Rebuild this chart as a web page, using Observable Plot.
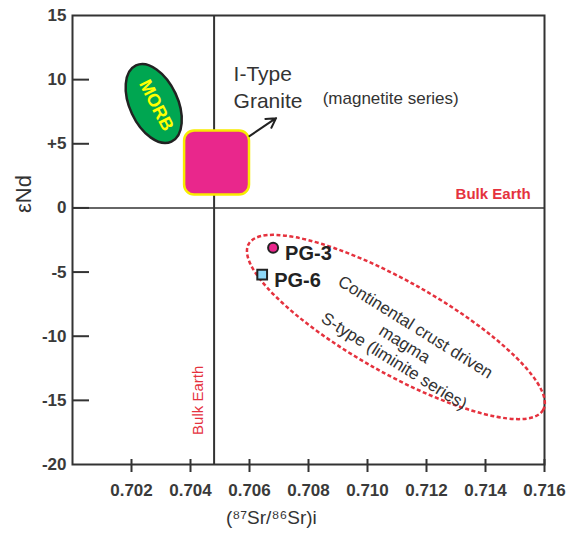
<!DOCTYPE html>
<html><head><meta charset="utf-8">
<script src="https://cdn.jsdelivr.net/npm/d3@7"></script>
<script src="https://cdn.jsdelivr.net/npm/@observablehq/plot@0.6"></script>
<style>body{margin:0;background:#fff;}</style>
</head><body><div id="chart"></div>
<script>
// ---- data ----
const xTicks = [0.702, 0.704, 0.706, 0.708, 0.710, 0.712, 0.714, 0.716];
const xTickLabels = ["0.702", "0.704", "0.706", "0.708", "0.710", "0.712", "0.714", "0.716"];
const yTicks = [15, 10, 5, 0, -5, -10, -15, -20];
const yTickLabels = ["15", "10", "+5", "0", "-5", "-10", "-15", "-20"];
const bulkEarthSr = [0.7048];
const bulkEarthNd = [0];
const sampleNames = ["PG-3", "PG-6"];
const sampleSr = [0.7068, 0.70643];
const sampleNd = [-3.1, -5.2];
const morbCenter = [0.70277, 8.1];
const iTypeSr = [0.7038, 0.7060];
const iTypeNd = [1.0, 6.0];
const arrowSr = [0.7060, 0.7069];
const arrowNd = [5.6, 7.0];
const crustCenter = [0.71098, -9.32];
const crustTextPos = [0.71128, -10.55];
const labelTexts = ["I-Type\nGranite", "(magnetite series)", "Bulk Earth", "Bulk Earth", "MORB",
  "Continental crust driven\nmagma\nS-type (liminite series)"];
const labelSr = [0.70546, 0.70848, 0.71553, 0.70427, 0.70284];
const labelNd = [9.5, 8.5, 1.1, -15.0, 8.0];

const font = "'Liberation Sans', Arial, Helvetica, sans-serif";
const red = "#e5323e";
const samples = sampleNames.map((name, i) => ({name, sr: sampleSr[i], nd: sampleNd[i]}));

function ellipseMark(center, rx, ry, angle, attrs) {
  return (index, scales) => {
    const g = d3.create("svg:g");
    const e = g.append("ellipse")
      .attr("cx", 0).attr("cy", 0).attr("rx", rx).attr("ry", ry)
      .attr("transform", `translate(${scales.x(center[0])},${scales.y(center[1])}) rotate(${angle})`);
    for (const [k, v] of Object.entries(attrs)) e.attr(k, v);
    return g.node();
  };
}

const chart = Plot.plot({
  width: 569, height: 533,
  marginLeft: 72, marginRight: 25, marginTop: 15, marginBottom: 69,
  x: {domain: [0.700, 0.716], label: null},
  y: {domain: [-20, 15], label: null},
  style: {fontFamily: font, background: "white", overflow: "visible"},
  marks: [
    Plot.ruleY(bulkEarthNd, {stroke: "#666", strokeWidth: 2}),
    Plot.ruleX(bulkEarthSr, {stroke: "#333", strokeWidth: 2}),
    Plot.frame({stroke: "#333", strokeWidth: 2}),
    // axes
    Plot.axisX(xTicks, {anchor: "bottom", tickSize: 13, dy: -5, tickFormat: () => "", stroke: "#333", strokeWidth: 2, label: null}),
    Plot.axisX(xTicks, {anchor: "bottom", tickSize: 0, tickPadding: 19, tickFormat: d => xTickLabels[xTicks.indexOf(d)],
      fontSize: 17, fontWeight: "bold", fill: "#3a3a3a", label: null}),
    Plot.axisY(yTicks.slice(1, -1), {anchor: "left", tickSize: 17, dx: 17, tickFormat: () => "", stroke: "#333", strokeWidth: 2, label: null}),
    Plot.axisY(yTicks, {anchor: "left", tickSize: 0, tickPadding: 6, tickFormat: d => yTickLabels[yTicks.indexOf(d)],
      fontSize: 17, fontWeight: "bold", fill: "#3a3a3a", label: null}),
    Plot.text(["εNd"], {frameAnchor: "left", dx: -49, dy: -27, rotate: -90, fontSize: 22, fill: "#333"}),
    Plot.text(["(⁸⁷Sr/⁸⁶Sr)i"], {x: 0.70674, frameAnchor: "bottom", dy: 59, fontSize: 19, fill: "#333"}),
    // MORB field
    ellipseMark(morbCenter, 24, 42, -25, {fill: "#00a651", stroke: "#222", "stroke-width": 2.5}),
    Plot.text([labelTexts[4]], {x: labelSr[4], y: labelNd[4], rotate: 63, fontSize: 18, fontWeight: "bold", fill: "#ffff00"}),
    // I-type granite box
    Plot.rect([0], {x1: iTypeSr[0], x2: iTypeSr[1], y1: iTypeNd[0], y2: iTypeNd[1], rx: 10,
      fill: "#e9278c", stroke: "#f7ec00", strokeWidth: 2.5}),
    Plot.arrow([0], {x1: arrowSr[0], y1: arrowNd[0], x2: arrowSr[1], y2: arrowNd[1], stroke: "#222", strokeWidth: 2, headLength: 9}),
    Plot.text([labelTexts[0]], {x: labelSr[0], y: labelNd[0], textAnchor: "start", fontSize: 21, lineHeight: 1.25, fill: "#333"}),
    Plot.text([labelTexts[1]], {x: labelSr[1], y: labelNd[1], textAnchor: "start", fontSize: 17, fill: "#333"}),
    // Bulk Earth labels
    Plot.text([labelTexts[2]], {x: labelSr[2], y: labelNd[2], textAnchor: "end", fontSize: 15, fontWeight: "bold", fill: red}),
    Plot.text([labelTexts[3]], {x: labelSr[3], y: labelNd[3], rotate: -90, fontSize: 15, fill: red}),
    // crust field
    ellipseMark(crustCenter, 169, 46, 29.4, {fill: "none", stroke: red, "stroke-width": 2.5, "stroke-dasharray": "4,2.5"}),
    Plot.text([labelTexts[5]], {x: crustTextPos[0], y: crustTextPos[1], rotate: 32, fontSize: 17, lineHeight: 1.18, fill: "#333"}),
    // samples
    Plot.dot(samples.slice(0, 1), {x: "sr", y: "nd", r: 5, fill: "#e9278c", stroke: "#222", strokeWidth: 2}),
    Plot.dot(samples.slice(1), {x: "sr", y: "nd", r: 5.5, symbol: "square", fill: "#8ed8f8", stroke: "#222", strokeWidth: 2}),
    Plot.text(samples, {x: "sr", y: "nd", text: "name", textAnchor: "start", dx: 12, dy: 6, fontSize: 20, fontWeight: "bold", fill: "#222"})
  ]
});
document.getElementById("chart").appendChild(chart);
</script>
</body></html>
